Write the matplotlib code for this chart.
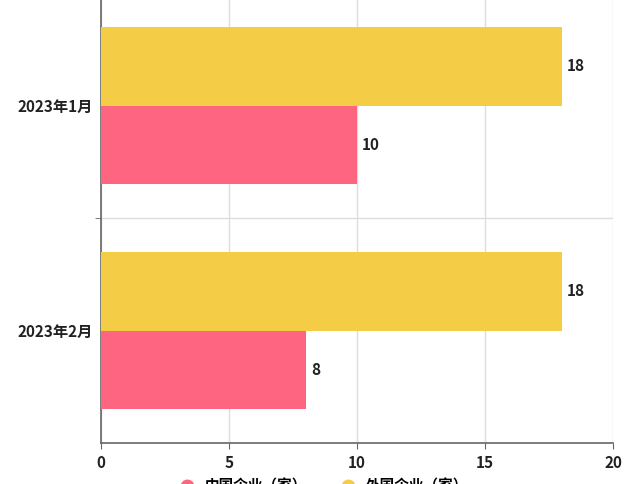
import matplotlib.pyplot as plt
from matplotlib.lines import Line2D

plt.rcParams['font.family'] = ['Noto Sans CJK SC', 'DejaVu Sans']

months = ['2023年1月', '2023年2月']
domestic = [10, 8]    # 中国企业（家）
foreign = [18, 18]    # 外国企业（家）
series_names = ['中国企业（家）', '外国企业（家）']
colors = ['#fd6580', '#f4cc46']

fig = plt.figure(figsize=(6.4, 4.84), dpi=100)
ax = fig.add_axes([101 / 640, 41 / 484, 512 / 640, 450 / 484])

pos = list(range(len(months)))
h = 0.35
ax.barh([p + h / 2 for p in pos], domestic, height=h, color=colors[0], zorder=3)
ax.barh([p - h / 2 for p in pos], foreign, height=h, color=colors[1], zorder=3)

for p, v in zip(pos, domestic):
    ax.text(v + 0.2, p + h / 2, f'{v}', va='center', ha='left',
            fontsize=11, fontweight='bold', color='#222222')
for p, v in zip(pos, foreign):
    ax.text(v + 0.2, p - h / 2, f'{v}', va='center', ha='left',
            fontsize=11, fontweight='bold', color='#222222')

ax.set_xlim(0, 20)
ax.set_ylim(len(months) - 0.5, -0.5)
ax.set_xticks([0, 5, 10, 15, 20])
ax.set_yticks(pos)
ax.set_yticklabels(months)
ax.set_yticks([0.5], minor=True)
ax.tick_params(axis='y', which='major', length=0, pad=6)
ax.tick_params(axis='y', which='minor', length=4, color='#666666')
ax.tick_params(axis='x', length=4, color='#666666', pad=5)
for lab in ax.get_xticklabels() + ax.get_yticklabels():
    lab.set_fontweight('bold')
    lab.set_fontsize(11)
    lab.set_color('#222222')

ax.grid(axis='x', color='#dddddd', linewidth=1, zorder=0)
ax.grid(axis='y', which='minor', color='#dddddd', linewidth=1, zorder=0)
for s in ['top', 'right']:
    ax.spines[s].set_visible(False)
for s in ['left', 'bottom']:
    ax.spines[s].set_color('#666666')
    ax.spines[s].set_linewidth(1.2)

handles = [Line2D([0], [0], marker='o', linestyle='', markersize=9,
                  markerfacecolor=c, markeredgecolor=c) for c in colors]
fig.legend(handles, series_names, loc='center', bbox_to_anchor=(0.5, -0.004),
           ncol=2, frameon=False, handletextpad=0.2, columnspacing=1.8,
           prop={'weight': 'bold', 'size': 10.5})

fig.savefig('out.png', dpi=100)
